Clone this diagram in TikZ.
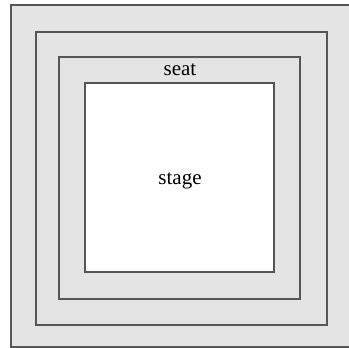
\documentclass[tikz,border=0pt]{standalone}
\usepackage{fontspec}
\setmainfont{Liberation Serif}
\definecolor{bandgray}{HTML}{E4E4E4}
\definecolor{linegray}{HTML}{555555}
\begin{document}
\begin{tikzpicture}[x=1pt,y=-1pt,
  band/.style={draw=linegray,line width=1.3pt,fill=bandgray},
  lbl/.style={font=\fontsize{21}{25}\selectfont,text=black}]
\useasboundingbox (0,0) rectangle (349,348);
\fill[white] (0,0) rectangle (349,348);
\clip (0,0) rectangle (349,348);
\draw[band] (11,5) rectangle (352,347);
\draw[band] (36,32) rectangle (327,325);
\draw[band] (59,57) rectangle (300,299);
\draw[draw=linegray,line width=1.3pt,fill=white] (85,83) rectangle (274,272);
\node[lbl] (seat) at (180,70) {seat};
\node[lbl] (stage) at (180,181) {stage};
\end{tikzpicture}
\end{document}
